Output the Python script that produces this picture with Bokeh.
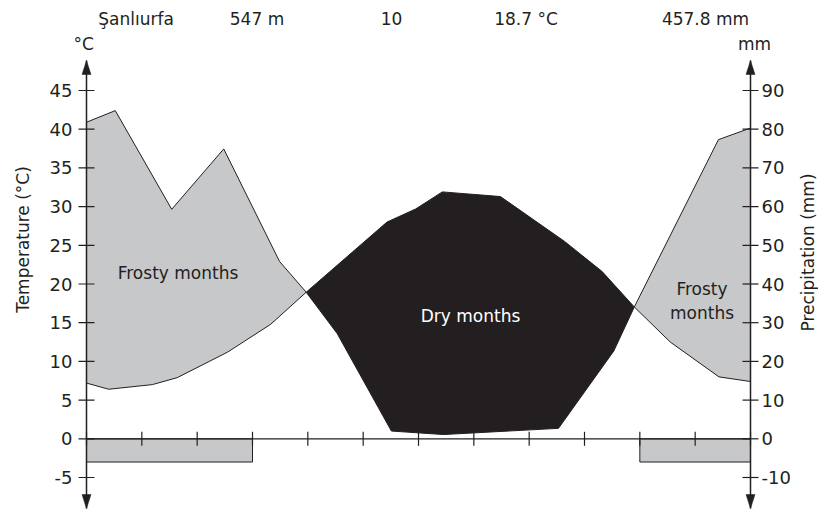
import math
import numpy as np
from bokeh.plotting import figure
from bokeh.models import Range1d
from bokeh.core.properties import value
from bokeh.embed import file_html
from bokeh.resources import INLINE

# ---------------- data ----------------
station = "Şanlıurfa"
elevation = "547 m"
years_observed = "10"
annual_mean_temp = "18.7 °C"
annual_precip = "457.8 mm"

# temperature curve: position in months from 1 January, value in °C
temp_month = [0.0, 0.40, 1.19, 1.64, 2.55, 3.33, 3.97, 5.43, 5.95, 6.43, 7.48, 8.64, 9.32, 9.90, 10.55, 11.43, 12.0]
temp_c = [7.2, 6.4, 7.0, 7.9, 11.2, 14.8, 18.94, 28.0, 29.7, 31.9, 31.3, 25.5, 21.6, 17.03, 12.5, 8.0, 7.4]

# precipitation curve: position in months, value in mm
prec_month = [0.0, 0.52, 1.54, 2.48, 3.49, 3.97, 4.53, 5.51, 6.45, 8.53, 9.53, 9.90, 11.42, 12.0]
prec_mm = [81.8, 84.8, 59.3, 74.9, 45.8, 37.88, 27.2, 2.0, 1.1, 2.7, 22.7, 34.06, 77.3, 80.3]

# frost periods (month boundaries) and depth of the frost bar (°C)
frost_start = [0, 10]
frost_end = [3, 12]
frost_depth = -3

temp_ticks = [-5, 0, 5, 10, 15, 20, 25, 30, 35, 40, 45]
prec_ticks = [-10, 0, 10, 20, 30, 40, 50, 60, 70, 80, 90]
month_ticks = list(range(13))

header_texts = [station, elevation, years_observed, annual_mean_temp, annual_precip]
area_labels = ["Frosty months", "Dry months", "Frosty\nmonths"]

# ---------------- layout helpers ----------------
INK = "#231f20"
GRAY = "#c7c8ca"
FONT = "DejaVu Sans"
S = 664 / 12.0          # px per month
K = 7.74                # px per °C
X0, Y0 = 86.0, 438.3    # screen position of (0 month, 0 °C)
W, H = 818, 510


def mx(px):
    return (px - X0) / S


def cy(py):
    return (Y0 - py) / K


p = figure(width=W, height=H, output_backend="svg", toolbar_location=None,
           x_range=Range1d(mx(0), mx(W)), y_range=Range1d(cy(H), cy(0)),
           x_axis_location=None, y_axis_location=None,
           min_border_left=0, min_border_right=0, min_border_top=0, min_border_bottom=0)
p.outline_line_color = None
p.background_fill_color = "white"
p.border_fill_color = "white"
p.xgrid.visible = False
p.ygrid.visible = False
p.extra_y_ranges = {"prec": Range1d(2 * cy(H), 2 * cy(0))}

# ---------------- filled areas ----------------
tx, ty = np.array(temp_month), np.array(temp_c)
qx, qy = np.array(prec_month), np.array(prec_mm) / 2.0
c1, c2 = sorted(set(temp_month) & set(prec_month) - {0.0, 12.0})


def seg(x, y, lo, hi):
    m = (x >= lo - 1e-9) & (x <= hi + 1e-9)
    return list(x[m]), list(y[m])


xs, ys = [], []
for lo, hi, top_is_prec in [(0.0, c1, True), (c1, c2, False), (c2, 12.0, True)]:
    a = seg(qx, qy, lo, hi) if top_is_prec else seg(tx, ty, lo, hi)
    b = seg(tx, ty, lo, hi) if top_is_prec else seg(qx, qy, lo, hi)
    xs.append(a[0] + b[0][::-1])
    ys.append(a[1] + b[1][::-1])
p.patches(xs=xs, ys=ys, fill_color=[GRAY, INK, GRAY], line_color=None)

p.line(temp_month, temp_c, line_color=INK, line_width=1)
p.line(prec_month, prec_mm, line_color=INK, line_width=1, y_range_name="prec")

# frost bars
p.quad(left=frost_start, right=frost_end, top=[0, 0], bottom=[frost_depth] * 2,
       fill_color=GRAY, line_color=INK, line_width=1)

# ---------------- axes (drawn on the data scales) ----------------
t_top, t_bot = cy(60), cy(508)
# vertical axis lines
p.segment(x0=[0, 12], y0=[t_bot, t_bot], x1=[0, 12], y1=[t_top, t_top],
          line_color=INK, line_width=1.5)
# zero line (month axis)
p.segment(x0=[month_ticks[0]], y0=[0], x1=[month_ticks[-1]], y1=[0], line_color=INK, line_width=1.2)

# temperature ticks + labels (left)
tl = 8 / S
p.segment(x0=[-tl] * len(temp_ticks), y0=temp_ticks, x1=[tl] * len(temp_ticks), y1=temp_ticks,
          line_color=INK, line_width=1.2)
p.text(x=[-(8 + 6) / S] * len(temp_ticks), y=temp_ticks, text=[str(t) for t in temp_ticks],
       text_font=value(FONT), text_font_size="18px", text_color=INK,
       text_align="right", text_baseline="middle")

# precipitation ticks + labels (right)
p.segment(x0=[12 - tl] * len(prec_ticks), y0=prec_ticks, x1=[12 + tl] * len(prec_ticks), y1=prec_ticks,
          line_color=INK, line_width=1.2, y_range_name="prec")
p.text(x=[12 + (8 + 3) / S] * len(prec_ticks), y=prec_ticks, text=[str(t) for t in prec_ticks],
       text_font=value(FONT), text_font_size="18px", text_color=INK,
       text_align="left", text_baseline="middle", y_range_name="prec")

# month ticks
mt = 7 / K
p.segment(x0=month_ticks, y0=[-mt] * len(month_ticks), x1=month_ticks, y1=[mt] * len(month_ticks),
          line_color=INK, line_width=1.2)

# arrow heads at both ends of both vertical axes
hl, hw = 14 / K, 4.5 / S
ah_x, ah_y = [], []
for xa in (0, 12):
    ah_x += [[xa - hw, xa, xa + hw], [xa - hw, xa, xa + hw]]
    ah_y += [[t_top - hl, t_top, t_top - hl], [t_bot + hl, t_bot, t_bot + hl]]
p.patches(xs=ah_x, ys=ah_y, fill_color=INK, line_color=INK, line_width=0.5)

# ---------------- texts ----------------
header_px = [135.5, 256.5, 391, 525.5, 705]
p.text(x=[mx(h) for h in header_px], y=[cy(18)] * len(header_texts), text=header_texts,
       text_font=value(FONT), text_font_size="17px", text_color=INK,
       text_align="center", text_baseline="middle")

p.text(x=[mx(83.3), mx(754)], y=[cy(43), cy(43)], text=["°C", "mm"],
       text_font=value(FONT), text_font_size="17px", text_color=INK,
       text_align="center", text_baseline="middle")

p.text(x=[mx(22.7), mx(807)], y=[cy(239), cy(252)], text=["Temperature (°C)", "Precipitation (mm)"],
       text_font=value(FONT), text_font_size="17px", text_color=INK,
       text_align="center", text_baseline="middle", angle=math.pi / 2)

lab_x = [mx(177.5), mx(470), mx(701.5)]
lab_y = [cy(272), cy(315.7), cy(300.7)]
p.text(x=lab_x, y=lab_y, text=area_labels, text_font=value(FONT), text_font_size="17px",
       text_color=[INK, "white", INK], text_align="center", text_baseline="middle")

open("out.html", "w").write(file_html(p, INLINE))
